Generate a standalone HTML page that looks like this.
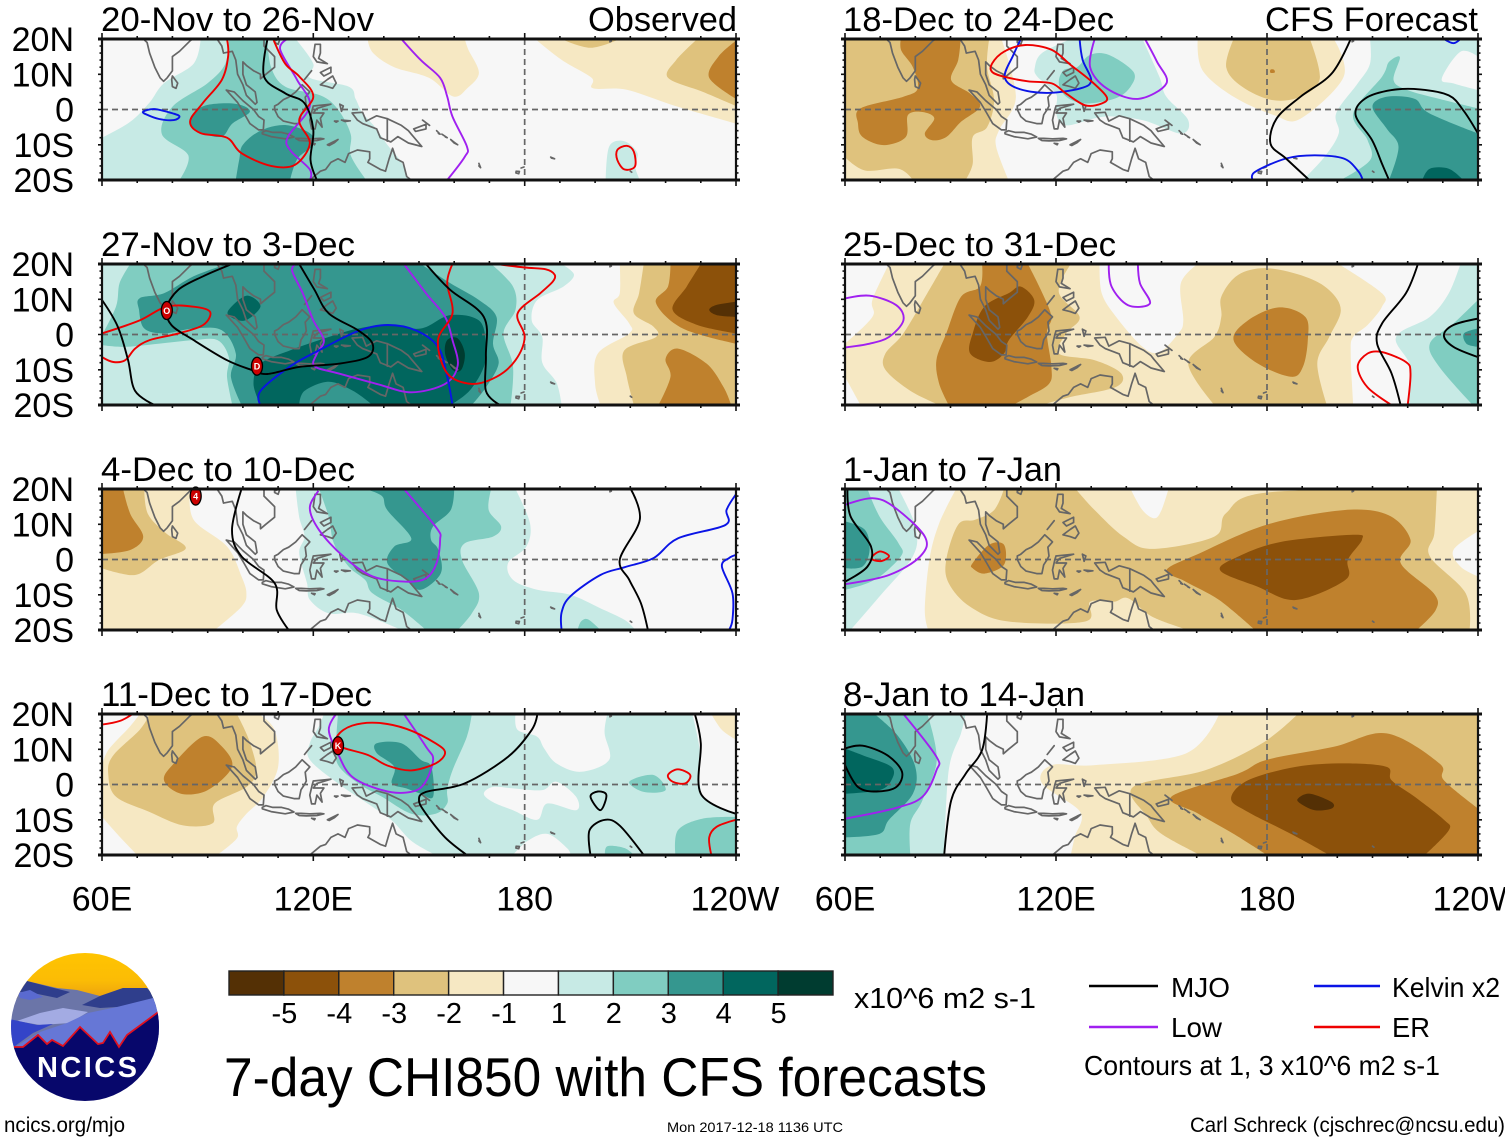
<!DOCTYPE html>
<html lang="en">
<head>
<meta charset="utf-8">
<title>7-day CHI850 with CFS forecasts</title>
<style>
html,body{margin:0;padding:0;background:#fff;width:1510px;height:1142px;overflow:hidden}
svg{display:block}
text{font-family:"Liberation Sans",sans-serif;fill:#000}
</style>
</head>
<body>
<svg id="chart" xmlns="http://www.w3.org/2000/svg" width="1510" height="1142" viewBox="0 0 1510 1142">
  <rect x="0" y="0" width="1510" height="1142" fill="#fff"/>
  <g id="panels"></g>
  <text x="588" y="31" font-size="34" textLength="149" lengthAdjust="spacingAndGlyphs">Observed</text>
  <text x="1265" y="31" font-size="34" textLength="213" lengthAdjust="spacingAndGlyphs">CFS Forecast</text>
  <g id="colorbar"></g>
  <text x="854" y="1008" font-size="29" textLength="182" lengthAdjust="spacingAndGlyphs">x10^6 m2 s-1</text>
  <text x="224" y="1096" font-size="55" textLength="763" lengthAdjust="spacingAndGlyphs">7-day CHI850 with CFS forecasts</text>

  <g>
    <line x1="1089" x2="1158" y1="986" y2="986" stroke="#000" stroke-width="2.4"/>
    <text x="1171" y="997" font-size="28" textLength="59" lengthAdjust="spacingAndGlyphs">MJO</text>
    <line x1="1314" x2="1380" y1="986" y2="986" stroke="#0a14e6" stroke-width="2.4"/>
    <text x="1392" y="997" font-size="28" textLength="108" lengthAdjust="spacingAndGlyphs">Kelvin x2</text>
    <line x1="1089" x2="1158" y1="1027" y2="1027" stroke="#a020f0" stroke-width="2.4"/>
    <text x="1171" y="1037" font-size="28" textLength="51" lengthAdjust="spacingAndGlyphs">Low</text>
    <line x1="1314" x2="1380" y1="1027" y2="1027" stroke="#ee0000" stroke-width="2.4"/>
    <text x="1392" y="1037" font-size="28" textLength="38" lengthAdjust="spacingAndGlyphs">ER</text>
    <text x="1084" y="1075" font-size="28" textLength="356" lengthAdjust="spacingAndGlyphs">Contours at 1, 3 x10^6 m2 s-1</text>
  </g>

  <text x="4" y="1132" font-size="21" textLength="121" lengthAdjust="spacingAndGlyphs">ncics.org/mjo</text>
  <text x="667" y="1132" font-size="14" textLength="176" lengthAdjust="spacingAndGlyphs">Mon 2017-12-18 1136 UTC</text>
  <text x="1190" y="1132" font-size="21" textLength="315" lengthAdjust="spacingAndGlyphs">Carl Schreck (cjschrec@ncsu.edu)</text>

  <g>
    <defs>
      <clipPath id="logoClip"><circle cx="85" cy="1027" r="74"/></clipPath>
      <linearGradient id="skyGrad" x1="0" y1="0" x2="0" y2="1">
        <stop offset="0" stop-color="#ffc400"/><stop offset="0.6" stop-color="#fbbc05"/><stop offset="1" stop-color="#eba010"/>
      </linearGradient>
    </defs>
    <g clip-path="url(#logoClip)">
      <rect x="11" y="953" width="148" height="46" fill="url(#skyGrad)"/>
      <polygon fill="#6b75a8" points="5,1000 27,981 57,988 77,990 100,996 123,988 147,988 165,1000 165,1060 5,1060"/>
      <polygon fill="#2f3e8c" points="27,981 50,987 70,992 57,998 33,993 20,992"/>
      <polygon fill="#2f3e8c" points="100,996 123,988 147,988 162,1005 117,1007 100,1008 82,1005"/>
      <polygon fill="#5a6ad0" points="18,993 30,990 43,997 30,1000 20,998"/>
      <polygon fill="#a3abe3" points="17,1021 40,1013 63,1008 88,1012 70,1023 40,1025"/>
      <polygon fill="#6677d6" points="15,1047 40,1032 67,1023 88,1013 117,1007 153,998 165,1003 165,1040 60,1050"/>
      <polygon fill="#3344c8" points="5,1018 37,1025 53,1024 33,1033 15,1046 5,1050"/>
      <polygon fill="#07076b" points="14,1047 23,1047 38,1035 47,1044 52,1040 63,1046 80,1027 98,1044 103,1043 110,1032 119,1047 127,1035 157,1013 165,1005 165,1105 5,1105 5,1047"/>
      <polyline fill="none" stroke="#e01020" stroke-width="1.8" points="14,1047 23,1047 38,1035 47,1044 52,1040 63,1046 80,1027 98,1044 103,1043 110,1032 119,1047 127,1035 157,1013 165,1005"/>
    </g>
    <text x="37" y="1077" font-size="29" font-weight="bold" style="fill:#fff" textLength="100" lengthAdjust="spacing">NCICS</text>
  </g>
</svg>

<script>
// Shaded bands: first entry is the band (1 = 1..2, -1 = -2..-1, 0 = -1..1), the rest are lon,lat pairs.
const fills1 = [
  [1, 115,20, 120,13, 119,9, 130,6.5, 132,3, 134,-1, 137.5,-5, 141,-10, 145,-15, 147,-20, 60,-20, 60,-8, 68,-3.5, 73.5,2, 77.6,7.5, 86,13, 88,20],
  [2, 96,20, 107,20, 108,12, 112,6.5, 122,4, 127,0, 130.6,-7, 130.6,-13, 135,-20, 82,-20, 84.5,-13, 77,-7, 80,0.8, 90,7.5, 95,13],
  [3, 86,-1, 90,1.3, 98,1.6, 102,-0.6, 97,-4, 94,-7.7, 88.6,-6.7, 85,-4],
  [3, 100,-10, 105,-6, 112,-4.4, 119,-6.7, 120,-10, 115.5,-14, 113.4,-20, 98,-20, 99,-14],
  [-1, 135.4,20, 137,16, 143,12, 152.8,9, 159.7,3.7, 163.7,6, 167,10.4, 164,17, 163,20],
  [-1, 183,20, 190.6,14, 199,9, 199.4,6, 209,5.6, 222.8,1, 240,-4, 240,20],
  [-2, 190.4,20, 198.7,17.5, 207,20],
  [-2, 229,20, 223,14, 220.7,9, 230.6,5, 240,1, 240,20],
  [-3, 240,19.5, 235,15, 232.4,9, 240,3],
  [1, 203,-20, 204,-10.5, 208.3,-9, 212,-12.3, 211.3,-16, 212.7,-20]
];
const mjo1 = [[107,20, 106,9.4, 112,4.6, 117.5,1.8, 120,-5.8, 119.2,-14.3, 121,-20]];
const low1 = [[145,20, 150.5,14, 156,9, 158,3.7, 159.5,-2, 163.6,-10.5, 163,-13.4, 158,-20],
  [112.7,20, 110.6,17, 115.4,8.4, 119,1, 112.8,-7.7, 113.4,-11.5, 119,-17, 119,-20]];
const kelvin1 = [[71.7,-0.6, 74.9,0.1, 80.4,-1.2, 82,-2, 80.4,-3, 76.2,-2.7, 72.8,-1.5, 71.7,-0.6]];
const er1 = [[95.5,20, 95.8,15, 94,8.4, 88.6,1.8, 85,-3.4, 88,-6.7, 95.5,-8, 99.6,-12.4, 108,-16, 114.8,-15.7, 119,-9.6, 116,-3, 120,3.7, 116,9.4, 112,13, 108.6,20],
  [206.3,-11.5, 209,-10.3, 211,-12, 211.3,-16.2, 208.3,-17, 206.3,-14.3, 206.3,-11.5]];
const storms1 = [];

const fills2 = [
  [1, 60,20, 190.5,20, 194,17, 191,13.6, 183.6,9.8, 182,4, 185,-0.7, 185,-8, 189,-13.6, 190.5,-20, 60,-20],
  [2, 68,20, 170.5,20, 176.7,13.6, 177.4,7, 174,0.3, 176.7,-9, 176,-20, 97,-20, 95.5,-12, 96,-6.4, 92.8,-1.6, 86,-1.6, 76,-2.6, 66.6,-3.5, 60,-3, 60,-0.2, 64,8, 65,14.6],
  [3, 70.7,10.3, 77.6,11.7, 86,16.5, 95.5,20, 150.5,20, 158.8,14.6, 167,9.8, 172,5, 171,-2.6, 172.6,-8.3, 169,-15, 165,-20, 99.6,-20, 96.6,-12, 98,-5.4, 94,1.2, 86,1.7, 77.6,0.3, 72,1.7, 70.5,7],
  [4, 96,7, 101,11, 105,8, 100.7,4, 96.5,5],
  [4, 105,-8.3, 113.4,-4.5, 124.4,-0.7, 132.7,1.7, 141,2.7, 150.5,1.7, 158.8,5.5, 167,4, 169,-2.6, 168.4,-9.2, 164.3,-16, 159,-20, 136.8,-20, 131.3,-16, 124.4,-13.4, 117.5,-16, 116,-20, 105,-20, 103,-14],
  [5, 158,-1.6, 161,-1.1, 163,-5.4, 162,-10, 159.5,-10, 157.4,-5.4],
  [-1, 207,20, 207,11.7, 205.3,8.9, 209.7,3.1, 209.7,0.3, 200.8,-5.4, 200,-14, 201.5,-20, 240,-20, 240,20],
  [-2, 213.8,20, 212.5,11.7, 211,6, 216.6,2.2, 217.3,-0.7, 208.3,-4.5, 209,-12, 211,-20, 240,-20, 240,20],
  [-3, 221.4,20, 220.7,13.6, 217.3,8.9, 224.9,1.7, 240,-2.6, 240,20],
  [-3, 220,-6.9, 223.5,-4, 231.7,-8.3, 236.5,-15, 238.6,-20, 218,-20, 221.4,-12],
  [-4, 230,20, 226,13.6, 222,7, 229,2.7, 240,0.3, 240,20],
  [-5, 240,9.3, 234.5,8.4, 232.4,7, 234.5,5.5, 240,5]
];
const mjo2 = [[60,9.8, 64.5,2.2, 67.4,-7.3, 69.4,-16, 75,-20],
  [96.9,20, 88.7,16.5, 81.7,12.7, 78.3,7.4, 79.7,2.7, 86,-1.6, 95.5,-7.3, 102.4,-10, 107,-11.2, 116,-9.2, 127,-8.3, 135.4,-6.4, 136.8,-2.6, 132.7,1.2, 124.4,6, 120.3,12.7, 116,20],
  [152,20, 158.8,12.7, 168.4,5, 169,-6, 169,-16, 173,-20]];
const low2 = [[115,20, 114,18, 117,11.7, 120,4, 123,-1.6, 121,-5.4, 120.3,-9, 127,-11, 138,-14, 147.8,-16.4, 157.4,-14, 161,-8.8, 159.5,-1.6, 157.4,5, 152,11.7, 145.7,20]];
const kelvin2 = [[105,-20, 105,-16, 113.5,-9, 121.6,-4.5, 132.7,1, 141,2.7, 149,1.2, 155.4,-3.5, 158,-12, 159.5,-20]];
const er2 = [[60,0.3, 70.7,4, 78.3,7.9, 86,7.9, 90.7,6.4, 88.7,2.7, 81.7,0.3, 73.5,-1.6, 69.4,-4, 66.6,-7.3, 63.2,-7.8, 60,-6.4],
  [159.5,20, 158,14.6, 159.5,6, 155.4,-1.6, 158,-11, 165,-14, 172,-12, 177.4,-7.3, 180,-0.7, 178,6, 184.4,11.7, 188,15, 188.5,17, 186,18.5, 180,19, 172,20]];
const storms2 = [[78.4,6.8,'O'],[104,-9,'D']];

const fills3 = [
  [1, 115,20, 177.4,20, 181.5,10.3, 180.5,3.7, 175.3,-1, 176.7,-5.8, 183.6,-8.6, 192.9,-10, 201.4,-13.8, 208.5,-17.2, 211.4,-20, 145,-20, 132.7,-15.3, 124.4,-15.3, 119,-11.4, 118.2,-6.7, 116,1.8, 117.5,6.5, 116,12],
  [2, 121.6,20, 170.5,20, 169.8,14, 173.3,9.4, 171,6.5, 163,4.6, 162.2,-0.1, 167,-9.6, 165,-15.3, 161,-20, 152,-20, 145,-14.3, 136.8,-9.6, 134.7,-5.8, 130,-2, 125.8,4.6, 124.4,12],
  [2, 195,-20, 196,-17.6, 198,-17, 201.5,-20],
  [3, 134.7,20, 160,20, 159,14, 154,9.4, 153.4,5.6, 155.5,2.7, 156.2,-3.9, 150.5,-8.6, 146.4,-5.8, 141,-1, 143,3.7, 147.8,6, 141,14, 139.5,18],
  [-1, 60,20, 85,20, 86,11.3, 95.5,3.7, 99.6,-4.8, 101,-9.6, 99.6,-13.4, 92,-20, 60,-20],
  [-2, 60,20, 72,20, 73,13, 78,7.6, 83.8,3.2, 76.2,-0.1, 69.4,-4.4, 60,-2.5],
  [-3, 60,20, 66,20, 68,13, 71.7,6.5, 68,2.7, 60,1.6]
];
const mjo3 = [[99.6,20, 96.9,8.4, 99.6,0.9, 109,-6.7, 109.6,-14.3, 113,-20],
  [210.1,20, 212.7,11.3, 207,0, 209.7,-5.8, 213,-12.4, 215,-20]];
const low3 = [[145.7,20, 155,8.9, 156,5.6, 155,-1, 152,-5.3, 146.4,-6.3, 136.8,-4.8, 128.5,0.9, 121.6,8.4, 119,14.6, 121.4,19.5]];
const kelvin3 = [[190.5,-20, 190.5,-15, 193,-10.4, 201.5,-4.4, 208.3,-2.2, 216.6,0.4, 223.5,6, 237,9.8, 237.3,14, 240,18.5],
  [238,-20, 239,-17, 239,-9.6, 236,-2, 238,0.4, 240,1.3]];
const er3 = [];
const storms3 = [[86.6,18,'4']];

const fills4 = [
  [1, 123,20, 240,20, 240,-20, 154.7,-20, 147.8,-16, 142.3,-10.2, 135.4,-5.4, 127,0.3, 119,7, 119,11.7, 121.6,16.5],
  [0, 177.4,20, 178,15.5, 183.5,13.6, 185.5,10.3, 189,6, 196,3.6, 204,7, 202.7,14.6, 203.5,20],
  [0, 168.4,-2.6, 171,-0.7, 176.7,-1.1, 185,-1.6, 189,0.8, 194.6,-3.5, 194.6,-7.3, 186.4,-5.4, 183.6,-10, 176.7,-7.3, 171,-5],
  [0, 176.7,-20, 180.8,-16, 186.4,-14, 192,-18, 193,-20],
  [0, 227.6,20, 229.7,9.8, 229.7,0.3, 231.7,-4.5, 240,-8.3, 240,20],
  [2, 127,20, 165,20, 163.6,13.6, 159.5,4, 158,-1.6, 158,-5.4, 154.7,-8.3, 147.8,-8.3, 139.5,-3.5, 132.7,0.3, 127,5.6, 126.5,11.7],
  [2, 209.7,0.8, 216.6,2.7, 220,-1.6, 213.8,-2.1],
  [2, 202.8,-20, 203.5,-17.5, 208.3,-18, 211,-20],
  [2, 222.8,-20, 223.5,-13, 230.4,-9.7, 240,-9.2, 240,-20],
  [3, 138,11.7, 145,11.7, 150.5,7, 153.5,5, 154,-3.5, 150.5,-2.6, 146.4,-1.1, 142.3,0.3, 143,5, 138,8.9],
  [-1, 104.4,20, 109,15.5, 110,5, 105.8,-3.5, 101,-8.3, 98.3,-12, 98.3,-15.3, 92.7,-20, 70,-20, 65.2,-15, 60,-9.2, 60,5, 61.8,9.8, 68,16.5, 70.7,20],
  [-2, 73.5,20, 70.7,15.5, 63,8, 61.8,2.7, 64,-3.5, 73.5,-7.8, 83,-11.6, 91.4,-11, 92,-5.4, 101,-0.7, 103.8,4, 101.7,12.7, 98.3,20],
  [-3, 77.6,1.2, 80.4,6, 88.6,13.6, 94,10.8, 96.9,5, 90,-1.6, 82.4,-2.6],
  [-1, 233,20, 236,15.5, 240,12.7, 240,20]
];
const mjo4 = [[183.6,20, 182,15.5, 175.3,7.9, 163,0.3, 152,-2.1, 150,-4.5, 152,-8.3, 157.4,-15, 163.6,-20],
  [201.5,-7.3, 198.7,-3.5, 200.8,-2, 203.2,-3, 201.5,-7.3],
  [198.7,-20, 198.4,-13, 202.8,-10, 207,-11.7, 213.8,-20],
  [228.3,20, 230,11.7, 230,-2.6, 240,-8.3]];
const low4 = [[126.5,20, 124.4,15.5, 127,8.7, 131,2.2, 139.5,-1.6, 146.4,-2.3, 151.2,-0.2, 154,6.9, 152,10.7, 145.7,20]];
const kelvin4 = [];
const er4 = [[60,17, 65,18, 68.7,20],
  [127,11, 127,14, 131,16.7, 138,17.5, 146.4,15.8, 154.7,11.7, 157.4,9, 154.7,6, 147.8,4, 141,5.4, 135.4,8.4, 127,11],
  [220.7,2.7, 223.5,4.3, 227,2.7, 225.6,0.3, 222,0.8, 220.7,2.7],
  [240,-10, 234.5,-12, 232.4,-15, 233,-20]];
const storms4 = [[127,11,'K']];

const fills5 = [
  [-1, 60,20, 104.5,20, 108.6,3.6, 103.8,-5.9, 103,-10.6, 106.5,-20, 60,-20],
  [-2, 60,20, 101,20, 100.4,12, 102.4,2.7, 100.4,-5, 96.3,-7.8, 96.3,-15.4, 94.3,-20, 79.3,-20, 75.2,-16.8, 65.7,-17.3, 60,-13.5],
  [-3, 75.9,20, 92.9,20, 92.2,14, 90.2,8.3, 95.6,4.5, 98.4,0.8, 93,-3.5, 88.8,-7.8, 84.8,-8.7, 82.7,-6.8, 85.4,-2.5, 82,-0.7, 77.9,-1.6, 77.3,-7.8, 71,-10.1, 65,-7.8, 63.7,-4, 64.4,0.3, 76.6,3.6, 80.7,6, 79.3,12, 76,16.7],
  [1, 124.2,20, 144.6,20, 149.4,9.3, 151.4,3.6, 157.6,-3, 155.5,-6.8, 144.6,-3, 133.7,-2, 122.9,-4.5, 120,-1, 120,4.5, 114.7,9.3, 114,12, 116,16],
  [2, 129.7,15.5, 135,15.5, 142,10.7, 141.2,6.5, 137,3.2, 128.3,1.7, 122.9,3.6, 120.8,7.4, 122.2,11.2, 126,12],
  [-1, 160.3,20, 161.6,11.2, 170.5,3.6, 182,-1.6, 189.5,-2.6, 201.8,9.3, 199,20],
  [-2, 170.5,20, 168.4,12, 173,6.4, 181.4,2.7, 189.5,3.6, 195,8.8, 192.2,20],
  [-3, 181,11.3, 182,11.3, 182.2,10.5, 181,10.4],
  [1, 209.3,20, 209.3,13, 205.8,7.4, 199.7,-1, 200.4,-6.8, 196.3,-13.5, 190.2,-20, 240,-20, 240,20],
  [0, 229.7,8.8, 235,16.4, 240,15, 240,5.5, 233,7.4],
  [2, 212.7,9.3, 214.7,13.5, 217.8,14.8, 216,8.3, 220,5.5, 229,3, 240,0.3, 240,-20, 201,-20, 209.3,-14.4, 208.6,-8.7, 204.5,-1.1],
  [3, 210,0.8, 214,3.6, 222,3, 226,-1, 240,-6.8, 240,-20, 214.7,-20, 217.4,-10.6, 214,-5.4],
  [4, 224.2,-20, 226.3,-16.8, 231.7,-16.8, 235.8,-20]
];
const mjo5 = [[203.8,20, 198.4,10.2, 189.5,3.6, 182.7,-2.6, 181,-9.7, 185.4,-13.9, 192,-20],
  [240,-6.8, 235.8,-0.2, 231.7,4, 223.5,5.7, 215.4,5.5, 207.9,3.1, 205.2,-1.6, 209.9,-8.7, 212.7,-15.4, 214.7,-20]];
const low5 = [[131,20, 129.7,12, 134.4,6, 143.3,3, 151.4,7.4, 148.7,13.6, 145.3,20]];
const kelvin5 = [[176,-20, 176.6,-17.7, 185.4,-13.9, 193.6,-13, 201.8,-13.9, 205.8,-17.3, 207.2,-20],
  [230.3,20, 233,18.8, 235,20],
  [110,20, 107.9,15.5, 105.4,9.3, 109,6, 117.4,4.7, 127,6, 130,8.3, 127.6,14, 126.7,20]];
const er5 = [[101.8,13, 105.2,16.4, 111.3,18.3, 118.8,16.9, 124.2,12.6, 129.7,8.3, 134.4,3.6, 133,1.7, 128.3,1.2, 122.9,4.5, 118.8,7.4, 112,8, 105.2,9.3, 101.8,10.7, 101.8,13]];
const storms5 = [];

const fills6 = [
  [-1, 72.5,20, 132.4,20, 133,11.7, 137.1,5, 144.6,-3.5, 149.4,-5, 154.8,0.3, 156.2,4, 155.5,14.5, 160.3,20, 200.4,20, 212.7,11.7, 212.7,7.9, 208.6,2.7, 204.5,-0.7, 203.8,-5.4, 204.5,-20, 64.4,-20, 60,-12, 60,-2.6, 67.8,5, 67.8,9.8],
  [-2, 124.2,20, 120.8,12, 126.7,5, 122.9,0.3, 120.8,-5.4, 131,-7.3, 138.5,-11, 137,-14.9, 124.2,-17.7, 116,-20, 86.8,-20, 78.6,-16, 71.5,-10, 71.5,-5.4, 76.6,0.3, 83.4,11.7, 88.2,20],
  [-3, 99,20, 112,20, 116,12, 118.7,5, 117.4,0.3, 118.7,-9.2, 118,-14, 112,-17.7, 107.7,-20, 89.5,-20, 86.8,-14, 86,-7.3, 88.8,0.3, 93,10.7, 98.4,13.6],
  [-4, 96.3,0.3, 99.6,7.9, 106.5,11.7, 110,13.6, 113.8,9.8, 112,5, 106.6,-1.6, 105.2,-5.4, 101.2,-7.8, 95.6,-5.4],
  [-2, 167,10.7, 171.8,16.9, 180,18.8, 190.9,16.4, 197.7,12.6, 201,6.9, 197.7,-0.7, 194.3,-8.2, 197,-20, 165,-20, 157.6,-8.2, 165,-0.7, 167,5],
  [-3, 170.5,-1.6, 174.6,4, 183.4,7.7, 190.9,5, 191.6,-1.6, 190.2,-9.2, 186.8,-12, 177.3,-8.2],
  [1, 235,20, 231.7,11.7, 226.3,5, 216.7,-0.7, 220.8,-9.2, 220,-20, 240,-20, 240,20],
  [2, 240,9.8, 233,3.1, 226.3,-2.6, 229,-9.2, 238.5,-20, 240,-20],
  [3, 240,1.7, 236,0.3, 236.7,-2.6, 240,-3.5]
];
const mjo6 = [[222.9,20, 219.5,11.7, 212.7,3.1, 211.3,-2.6, 215.4,-11, 218,-20],
  [240,4.5, 233,2.7, 230.3,-0.2, 233,-3.5, 240,-6.4]];
const low6 = [[60,10.2, 67,11, 74.6,8.3, 76.6,4, 72.5,-0.7, 67,-2.6, 60,-3.7],
  [135,20, 135.8,13.6, 140.5,8.3, 146.7,8.8, 143.9,14.5, 143.3,20]];
const kelvin6 = [];
const er6 = [[215.4,-20, 208.6,-15, 205.8,-9.2, 208.6,-5.4, 212.7,-5, 219.5,-7.8, 220.8,-11, 220,-20]];
const storms6 = [];

const fills7 = [
  [1, 60,20, 75.2,20, 80,9.4, 79.3,0.9, 69.8,-10.5, 61.6,-20, 60,-20],
  [2, 60,20, 66.4,20, 69.8,12.2, 75.2,4.6, 75.9,0.9, 68.4,-5.8, 60,-8.6],
  [3, 60,10.8, 65.7,8.4, 67,2.7, 65,-2, 60,-2.5],
  [-1, 91.6,20, 86.8,10.3, 84,0, 82.7,-14.3, 83.7,-20, 240,-20, 240,20],
  [0, 141.2,20, 144.6,14, 148,11.7, 150,14, 152,20],
  [0, 233,2.7, 240,8, 240,-4.8, 235,-2],
  [-2, 92.2,9.9, 97,11.3, 102.4,14, 105.2,20, 125.6,20, 131,14, 139.2,6.5, 147.3,3, 165,6.5, 168.4,13.2, 180,19, 228.3,20, 227.6,7.5, 226.3,0.9, 236.5,-9.6, 237.6,-20, 157.6,-20, 147.3,-16.2, 140.5,-11, 136.5,-12, 129.7,-12, 128.3,-17.6, 106.5,-17.6, 95.6,-13.4, 89.5,-6.7, 88.8,0],
  [-3, 96.3,-1, 101,4.2, 105.2,4.2, 105.2,-1.5, 99.7,-4, 96.3,-2.5],
  [-3, 151.4,-3, 160.9,1.8, 180,9.9, 201.8,14, 214.5,12.6, 220.8,5.6, 218,-1, 227.4,-9.6, 228,-14.3, 222.6,-20, 176.6,-20, 166.4,-11.5, 156.9,-6.3],
  [-4, 166.7,-3.1, 172,0.9, 184,5, 204.4,7, 207,5.6, 203,-0.1, 202.3,-5.8, 188.2,-11.5, 177.3,-7.7]
];
const mjo7 = [[60.7,20, 61.6,12.2, 67.4,3.7, 66.4,-2, 60,-6.3]];
const low7 = [[60,15.5, 67.7,17.4, 73.8,15, 82.7,6.5, 81.4,0.9, 72.5,-4.4, 60,-7]];
const kelvin7 = [];
const er7 = [[67.8,0.9, 70,2.3, 72.5,1, 70.5,-0.4, 68,-0.1, 67.8,0.9]];
const storms7 = [];

const fills8 = [
  [1, 60,20, 94.3,20, 93,14.5, 89.5,4, 88.2,-20, 60,-20],
  [2, 60,20, 83.4,20, 86.1,7, 82,-4.5, 78.6,-11, 78.6,-20, 60,-20],
  [3, 60,20, 68.4,20, 75.2,13.6, 80,5, 79.3,-2.6, 72.5,-10, 69.8,-14, 60,-15],
  [4, 60,10.2, 65,8.3, 73.2,5, 73.2,1.2, 69.8,-1.6, 60,-2.6],
  [-1, 166.4,20, 156.9,8.8, 131,5.5, 118.8,5.5, 116,0.3, 126.9,-7.8, 125.3,-14.9, 124.2,-20, 240,-20, 240,20],
  [-2, 188.8,20, 178.6,11.7, 162.3,4, 141.9,-0.7, 146,-9.2, 150,-14, 161,-20, 240,-20, 240,20],
  [-3, 152.8,-3.5, 171.8,3.1, 180,7, 199,10.7, 214,14.5, 229,6, 230.3,1.2, 240,-6.8, 240,-20, 180,-20, 170.5,-14, 160.3,-8.2],
  [-4, 169.8,-4, 174.6,1.2, 188.2,5, 201.8,6, 214,5, 215.4,1.2, 222,-3.5, 230.3,-10, 231.7,-13, 224.9,-20, 197.7,-20, 186.8,-14, 174.6,-7.8],
  [-5, 188.8,-4, 192.2,-2.6, 198.4,-5, 198.4,-6.8, 193.6,-7.3, 189.5,-5.4]
];
const mjo8 = [[60,5.5, 60,10.2, 65,11, 72,8.3, 76.2,3.6, 74.6,-0.7, 69,-2, 63.7,-0.7, 60,5.5],
  [100.4,20, 99,9.8, 94.3,3, 90.2,-4.5, 88.2,-20]];
const low8 = [[76.6,20, 86,7.9, 86,4, 82,-3.5, 73.9,-6.8, 60,-9.7]];
const kelvin8 = [];
const er8 = [];
const storms8 = [];

// Coastlines as lon,lat polylines, shared by every map.
const coastlines = [
  [71,20.7, 72.8,19, 73.5,16, 75,12, 76.5,9, 77.5,8, 78.5,9, 80,11, 80,15, 82,16.5, 85,19.5, 87,21],
  [80,9.5, 81.5,7.5, 81,6, 80,6.5, 79.8,8.5, 80,9.5],
  [87,21, 90,22, 92,21, 94,18, 94.5,16, 97,16.5, 98,14, 98.5,10, 100,7, 101,4, 103.5,1.5, 104,2, 103.5,5, 101,7, 100,10, 100,13.5, 101,12.5, 103,11, 105,10, 105,8.7, 106.5,10, 109,12, 109,15, 106,18, 106,20, 108,21.5, 110,21],
  [109,19.5, 110.5,20, 110,18.5, 109,19, 109,19.5],
  [95.3,5.5, 97.5,5, 100,2.5, 103,0, 104.5,-2, 106,-3, 105.8,-5.8, 104.5,-5.8, 102,-4, 100.3,-1, 98.5,2, 95.3,5.5],
  [105.5,-6.5, 106.5,-6, 108.5,-6.5, 111,-6.5, 113,-7, 114.5,-7.8, 112,-8.3, 108,-7.7, 105.5,-6.9, 105.5,-6.5],
  [115,-8.2, 116.5,-8.2, 119,-8.3, 122,-8.2, 123,-8.3, 121,-8.8, 118,-8.9, 116,-8.8, 115,-8.2],
  [119.5,-9.6, 120.5,-9.7, 120.3,-10, 119.5,-9.6],
  [124,-10, 126,-9, 127,-8.5, 126,-9.4, 124.5,-10.2, 124,-10],
  [109,1, 110,1.5, 111.5,2.8, 113,3.5, 115,5, 116.8,7, 119,5, 117.7,3.5, 118,1, 117.5,0, 116.5,-1.5, 116,-4, 114.5,-4, 111.5,-3.3, 110,-2, 109,0, 109,1],
  [120,1, 125,1.5, 121,0.3, 120,-1, 121,-1, 123,-1, 122,-2.5, 122.5,-5, 121,-3, 120.5,-5.5, 119.5,-5.5, 119,-3, 119.7,0, 120,1],
  [120.5,18.5, 122,18.5, 122,16, 121.5,14.5, 124,13, 121,13.5, 120,15, 120.5,18.5],
  [122,7, 124,8.5, 125.5,9.5, 126.5,7.5, 125.5,6, 124,6.5, 122,7],
  [123,11, 125,12, 125,10.5, 123,9.5, 122,10.5, 123,11],
  [117.5,8.5, 119.5,11],
  [127.5,1.5, 128,-0.5, 128.5,1, 127.5,1.5],
  [128,-3, 130.5,-3.2, 129,-3.4, 128,-3],
  [126,-3.3, 127,-3.3, 126.5,-3.6, 126,-3.3],
  [131,-1, 134,-0.8, 135,-3.3, 138,-1.8, 141,-2.6, 145,-4.5, 147,-6, 147.8,-7, 150.8,-10.5, 147,-9.5, 144,-7.7, 142,-9.2, 139,-8, 138,-5.5, 134,-4, 132.5,-3, 131,-1],
  [141,-2.6, 141,-9],
  [148.5,-5.5, 152,-4.2, 152,-5.5, 149,-6.2, 148.5,-5.5],
  [151,-3, 153,-4.5],
  [155,-6, 156,-7, 155.5,-6.8],
  [156.5,-7, 158,-8, 157.5,-7.8],
  [159,-8.5, 160,-9.3, 161,-10, 160,-9.5, 159,-8.5],
  [167,-15.3, 167.5,-16.5, 167,-16],
  [177.6,-17.5, 178.5,-17.6, 178.3,-18.2, 177.5,-18, 177.6,-17.5],
  [179,-16.6, 179.8,-16.3],
  [187.4,-13.5, 188.5,-14, 187.6,-13.8],
  [204,19.8, 204.6,19.4, 204.2,19.2],
  [210,-17.5, 210.4,-17.8],
  [113.5,-22, 114,-22, 116,-21, 119,-20, 122,-17.5, 123.5,-17, 125,-15, 127,-14, 129,-15, 130,-12.5, 132.5,-11.5, 136,-12, 136,-14, 135.5,-15, 139,-17, 140.5,-17.5, 141.5,-14, 142.5,-11, 143.5,-14, 145.5,-15, 146.5,-19, 149,-21]
];

const panelTitles = ['20-Nov to 26-Nov','27-Nov to 3-Dec','4-Dec to 10-Dec','11-Dec to 17-Dec','18-Dec to 24-Dec','25-Dec to 31-Dec','1-Jan to 7-Jan','8-Jan to 14-Jan'];
const panelTitleWidths = [273,254,254,271,271,273,219,242];
const panelFills = [fills1,fills2,fills3,fills4,fills5,fills6,fills7,fills8];
const panelMjo = [mjo1,mjo2,mjo3,mjo4,mjo5,mjo6,mjo7,mjo8];
const panelLow = [low1,low2,low3,low4,low5,low6,low7,low8];
const panelKelvin = [kelvin1,kelvin2,kelvin3,kelvin4,kelvin5,kelvin6,kelvin7,kelvin8];
const panelEr = [er1,er2,er3,er4,er5,er6,er7,er8];
const panelStorms = [storms1,storms2,storms3,storms4,storms5,storms6,storms7,storms8];

const latTicks = [20,10,0,-10,-20];
const latTickLabels = ['20N','10N','0','10S','20S'];
const lonTicks = [60,120,180,240];
const lonTickLabels = ['60E','120E','180','120W'];

const colorbarBands = [-5,-4,-3,-2,-1,0,1,2,3,4,5];
const colorbarLabels = ['-5','-4','-3','-2','-1','1','2','3','4','5'];

const bandColor = {'-5':'#543005','-4':'#8c510a','-3':'#bf812d','-2':'#dfc27d','-1':'#f6e8c3','0':'#f7f7f7','1':'#c7eae5','2':'#80cdc1','3':'#35978f','4':'#01665e','5':'#003c30'};

const NS = 'http://www.w3.org/2000/svg';
function mk(tag, attrs, parent) {
  const n = document.createElementNS(NS, tag);
  for (const k in attrs) n.setAttribute(k, attrs[k]);
  parent.appendChild(n);
  return n;
}
const COL_X = [102, 845], COL_W = [634, 633], ROW_Y = 39, ROW_STEP = 225, H = 141;

function axes(col, row) {
  const x0 = COL_X[col], w = COL_W[col], y0 = ROW_Y + ROW_STEP * row;
  return {
    x: lon => x0 + (lon - 60) / 180 * w,
    y: lat => y0 + (20 - lat) / 40 * H,
    x0, y0, w
  };
}
function pairs(flat) {
  const out = [];
  for (let i = 0; i + 1 < flat.length; i += 2) out.push([flat[i], flat[i + 1]]);
  return out;
}
function onEdge(p) { return p[0] <= 60 || p[0] >= 240 || p[1] >= 20 || p[1] <= -20; }

// Smooth path through lon,lat points; points on the frame keep a sharp corner.
function splinePath(pts, ax, closed) {
  const P = pts.map(p => [ax.x(p[0]), ax.y(p[1]), onEdge(p)]);
  const n = P.length;
  const idx = i => closed ? (i + n) % n : Math.max(0, Math.min(n - 1, i));
  const tan = i => {
    if (P[i][2]) return [0, 0];
    const a = P[idx(i - 1)], b = P[idx(i + 1)];
    return [(b[0] - a[0]) / 6, (b[1] - a[1]) / 6];
  };
  let d = 'M' + P[0][0].toFixed(1) + ' ' + P[0][1].toFixed(1);
  const segs = closed ? n : n - 1;
  for (let i = 0; i < segs; i++) {
    const j = idx(i + 1), t0 = tan(i), t1 = tan(j);
    d += 'C' + (P[i][0] + t0[0]).toFixed(1) + ' ' + (P[i][1] + t0[1]).toFixed(1) + ' '
      + (P[j][0] - t1[0]).toFixed(1) + ' ' + (P[j][1] - t1[1]).toFixed(1) + ' '
      + P[j][0].toFixed(1) + ' ' + P[j][1].toFixed(1);
  }
  return d + (closed ? 'Z' : '');
}
function contour(list, color, name, ax, g) {
  list.forEach(flat => {
    let pts = pairs(flat);
    const last = pts[pts.length - 1];
    const closed = pts.length > 2 && pts[0][0] === last[0] && pts[0][1] === last[1];
    if (closed) pts = pts.slice(0, -1);
    const path = mk('path', {d: splinePath(pts, ax, closed), fill: 'none', stroke: color, 'stroke-width': 1.9}, g);
    
    
  });
}

const root = document.getElementById('panels');
const defs = mk('defs', {}, root);
panelTitles.forEach((title, i) => {
  const col = i < 4 ? 0 : 1, row = i % 4;
  const ax = axes(col, row);
  const g = mk('g', {}, root);
  
  

  const cp = mk('clipPath', {id: 'clip' + i}, defs);
  mk('rect', {x: ax.x0, y: ax.y0, width: ax.w, height: H}, cp);
  const map = mk('g', {'clip-path': 'url(#clip' + i + ')'}, g);
  
  

  const bg = mk('rect', {x: ax.x0, y: ax.y0, width: ax.w, height: H, fill: bandColor[0]}, map);
  
  

  panelFills[i].forEach(f => {
    const shade = mk('path', {d: splinePath(pairs(f.slice(1)), ax, true), fill: bandColor[f[0]]}, map);
    
    
  });

  coastlines.forEach(flat => {
    const pts = pairs(flat).map(p => ax.x(p[0]).toFixed(1) + ',' + ax.y(p[1]).toFixed(1)).join(' ');
    const coast = mk('polyline', {points: pts, fill: 'none', stroke: '#666', 'stroke-width': 1.7, 'stroke-linejoin': 'round', 'stroke-linecap': 'round'}, map);
    
    
  });

  const eq = mk('line', {x1: ax.x0, x2: ax.x0 + ax.w, y1: ax.y(0), y2: ax.y(0), stroke: '#666', 'stroke-width': 1.7, 'stroke-dasharray': '6 4'}, map);
  
  
  const dl = mk('line', {x1: ax.x(180), x2: ax.x(180), y1: ax.y0, y2: ax.y0 + H, stroke: '#666', 'stroke-width': 1.7, 'stroke-dasharray': '6 4'}, map);
  
  

  contour(panelLow[i], '#a020f0', 'low-contour', ax, map);
  contour(panelKelvin[i], '#0a14e6', 'kelvin-contour', ax, map);
  contour(panelEr[i], '#ee0000', 'er-contour', ax, map);
  contour(panelMjo[i], '#000', 'mjo-contour', ax, map);

  panelStorms[i].forEach(s => {
    const cx = ax.x(s[0]), cy = ax.y(s[1]);
    const e = mk('ellipse', {cx, cy, rx: 5.5, ry: 9, fill: '#cc0000', stroke: '#000', 'stroke-width': 1.3}, g);
    
    
    const t = mk('text', {x: cx, y: cy + 3.5, 'font-size': 9, 'font-weight': 'bold', 'text-anchor': 'middle', style: 'fill:#fff'}, g);
    t.textContent = s[2];
    
    
  });

  const frame = mk('rect', {x: ax.x0, y: ax.y0, width: ax.w, height: H, fill: 'none', stroke: '#111', 'stroke-width': 2.2}, g);
  
  
  const rails = mk('path', {d: 'M' + (ax.x0 - 4) + ' ' + ax.y0 + 'h' + (ax.w + 8) + 'M' + (ax.x0 - 4) + ' ' + (ax.y0 + H) + 'h' + (ax.w + 8), stroke: '#111', 'stroke-width': 3, fill: 'none'}, g);
  
  

  let tickD = '';
  for (let lon = 60; lon <= 240; lon += 10) {
    const major = lonTicks.includes(lon), len = major ? 6 : 3, X = ax.x(lon).toFixed(1);
    tickD += 'M' + X + ' ' + ax.y0 + 'v' + (-len) + 'M' + X + ' ' + (ax.y0 + H) + 'v' + len;
  }
  for (let lat = -20; lat <= 20; lat += 2) {
    const len = lat % 10 === 0 ? 4 : 2.5, Y = ax.y(lat).toFixed(1);
    tickD += 'M' + ax.x0 + ' ' + Y + 'h' + (-len) + 'M' + (ax.x0 + ax.w) + ' ' + Y + 'h' + len;
  }
  const ticks = mk('path', {d: tickD, stroke: '#111', 'stroke-width': 1.6, fill: 'none'}, g);
  
  

  const tt = mk('text', {x: ax.x0 - (col ? 2 : 1), y: ax.y0 - 8, 'font-size': 34, textLength: panelTitleWidths[i], lengthAdjust: 'spacingAndGlyphs'}, g);
  tt.textContent = title;
  
  

  if (col === 0) {
    latTicks.forEach((lat, k) => {
      const lab = mk('text', {x: 74, y: ax.y(lat) + 12, 'font-size': 34, 'text-anchor': 'end'}, g);
      lab.textContent = latTickLabels[k];
      
      
    });
  }
  if (row === 3) {
    lonTicks.forEach((lon, k) => {
      const lab = mk('text', {x: ax.x(lon) - (k === 3 ? 1 : 0), y: 910.5, 'font-size': 34, 'text-anchor': 'middle'}, g);
      lab.textContent = lonTickLabels[k];
      
      
    });
  }
});

const pageClip = mk('clipPath', {id: 'pageClip'}, defs);
mk('rect', {x: 0, y: 0, width: 1505, height: 1142}, pageClip);
root.setAttribute('clip-path', 'url(#pageClip)');

const cb = document.getElementById('colorbar');
const CB_X = 229, CB_W = 604, CB_Y = 971, CB_H = 24;
const cbX = i => CB_X + i * CB_W / colorbarBands.length;
colorbarBands.forEach((band, i) => {
  const r = mk('rect', {x: cbX(i), y: CB_Y, width: CB_W / colorbarBands.length, height: CB_H, fill: bandColor[band], stroke: '#222', 'stroke-width': 1.4}, cb);
  
  
});
colorbarLabels.forEach((label, i) => {
  const t = mk('text', {x: cbX(i + 1) + 0.5, y: 1023, 'font-size': 29, 'text-anchor': 'middle'}, cb);
  t.textContent = label;
  
  
});
</script>
</body>
</html>
